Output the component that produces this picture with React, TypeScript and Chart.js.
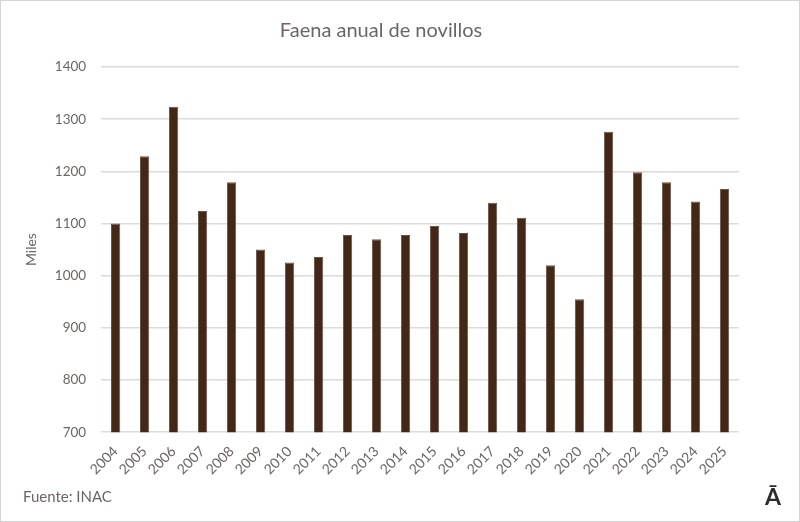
import { useEffect, useRef } from 'react';
import Chart from 'chart.js/auto';

const years = [
  '2004', '2005', '2006', '2007', '2008', '2009', '2010', '2011', '2012', '2013', '2014',
  '2015', '2016', '2017', '2018', '2019', '2020', '2021', '2022', '2023', '2024', '2025',
];
// miles de cabezas
const faena = [
  1100, 1229, 1324, 1124, 1179, 1050, 1025, 1036, 1078, 1070, 1078,
  1095, 1082, 1140, 1111, 1020, 955, 1276, 1198, 1179, 1142, 1166,
];

const FONT = 'Lato, "Open Sans", sans-serif';
const TEXT_GRAY = '#6e6464';

export default function App() {
  const chartRef = useRef<HTMLCanvasElement | null>(null);
  const chartInstance = useRef<Chart | null>(null);

  useEffect(() => {
    if (!chartRef.current) return;
    if (chartInstance.current) chartInstance.current.destroy();

    const ctx = chartRef.current.getContext('2d');
    if (!ctx) return;

    chartInstance.current = new Chart(ctx, {
      type: 'bar',
      data: {
        labels: years,
        datasets: [
          {
            label: 'Faena',
            data: faena,
            backgroundColor: '#432817',
            borderColor: '#6b5446',
            borderWidth: 1,
            barPercentage: 0.32,
            categoryPercentage: 1,
          },
        ],
      },
      options: {
        responsive: true,
        maintainAspectRatio: false,
        animation: false,
        layout: { padding: { top: 18, right: 60, bottom: 40, left: 22 } },
        plugins: {
          legend: { display: false },
          tooltip: { enabled: false },
          title: {
            display: true,
            text: 'Faena anual de novillos',
            color: TEXT_GRAY,
            font: { family: FONT, size: 20, weight: 'normal' },
            padding: { top: 0, bottom: 24 },
          },
        },
        scales: {
          y: {
            min: 700,
            max: 1400,
            ticks: {
              stepSize: 100,
              color: TEXT_GRAY,
              font: { family: FONT, size: 13.5 },
              padding: 15,
              callback: (v) => String(v),
            },
            grid: { color: '#dcdcdc', lineWidth: 1.5, drawTicks: false },
            border: { display: false },
            title: {
              display: true,
              text: 'Miles',
              color: TEXT_GRAY,
              font: { family: FONT, size: 14 },
              padding: 0,
            },
          },
          x: {
            ticks: {
              color: TEXT_GRAY,
              font: { family: FONT, size: 14 },
              minRotation: 45,
              maxRotation: 45,
              autoSkip: false,
              padding: 3,
            },
            grid: { display: false },
            border: { display: false },
          },
        },
      },
    });

    return () => {
      if (chartInstance.current) {
        chartInstance.current.destroy();
        chartInstance.current = null;
      }
    };
  }, []);

  return (
    <div
      style={{
        position: 'fixed',
        left: 0,
        top: 0,
        width: 800,
        height: 522,
        boxSizing: 'border-box',
        border: '1px solid #d4d4d4',
        background: '#fff',
        fontFamily: FONT,
      }}
    >
      <canvas ref={chartRef} />
      <div
        style={{
          position: 'absolute',
          left: 22,
          top: 486,
          fontSize: 15,
          color: TEXT_GRAY,
        }}
      >
        Fuente: INAC
      </div>
      <div
        style={{
          position: 'absolute',
          left: 764,
          top: 481,
          fontSize: 23,
          fontWeight: 'bold',
          color: '#2b2b2b',
        }}
      >
        Ā
      </div>
    </div>
  );
}
